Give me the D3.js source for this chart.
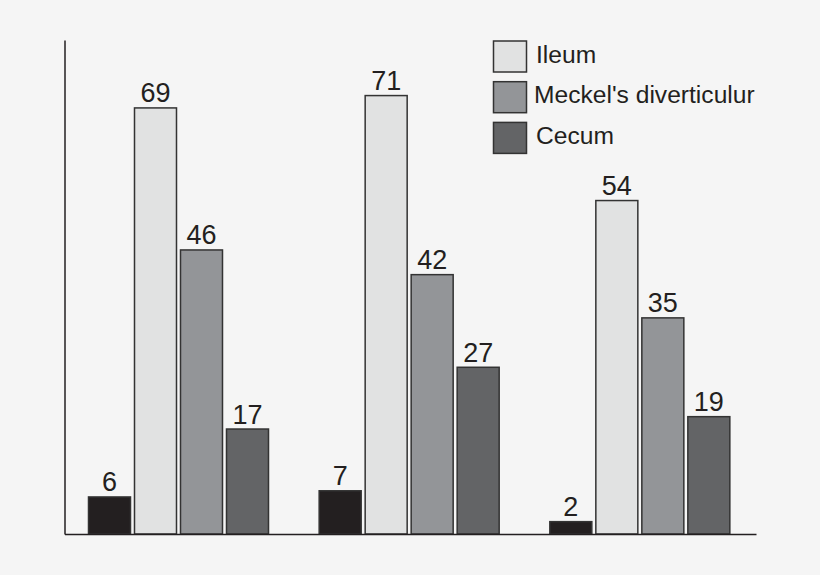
<!DOCTYPE html>
<html><head><meta charset="utf-8">
<script src="https://cdn.jsdelivr.net/npm/d3@7"></script>
<style>html,body{margin:0;padding:0;background:#f5f5f5;}svg{display:block;}</style>
</head><body>
<svg id="chart" width="820" height="575"></svg>
<script>
const groups = ["A", "B", "C"];
const seriesKeys = ["Other", "Ileum", "Meckel's diverticulur", "Cecum"];
const otherValues = [6, 7, 2];
const ileumValues = [69, 71, 54];
const meckelValues = [46, 42, 35];
const cecumValues = [17, 27, 19];
const legendLabels = ["Ileum", "Meckel's diverticulur", "Cecum"];
const colors = ["#231f20", "#e1e2e2", "#939598", "#636466"];

const seriesValues = [otherValues, ileumValues, meckelValues, cecumValues];
const svg = d3.select("#chart");
const font = "'Liberation Sans', Arial, sans-serif";

const x0 = d3.scaleBand().domain(groups).range([65, 757]).padding(0);
const x1 = d3.scaleBand().domain(seriesKeys).range([23.5, 203.5]).paddingInner(0.087).paddingOuter(0);
const y = d3.scaleLinear().domain([0, 80]).range([534, 40]);

const data = [];
groups.forEach((g, gi) => seriesKeys.forEach((k, si) => data.push({g, k, si, v: seriesValues[si][gi]})));

const gBars = svg.append("g");
gBars.selectAll("rect").data(data).join("rect")
  .attr("x", d => x0(d.g) + x1(d.k))
  .attr("y", d => y(d.v))
  .attr("width", x1.bandwidth())
  .attr("height", d => y(0) - y(d.v))
  .attr("fill", d => colors[d.si])
  .attr("stroke", "#333")
  .attr("stroke-width", 1.5);

gBars.selectAll("text").data(data).join("text")
  .attr("x", d => x0(d.g) + x1(d.k) + x1.bandwidth() / 2)
  .attr("y", d => y(d.v) - 5.5)
  .attr("text-anchor", "middle")
  .attr("font-family", font)
  .attr("font-size", 27)
  .attr("fill", "#231f20")
  .text(d => d.v);

// axes
const yAxis = d3.axisLeft(y).tickValues([]).tickSize(0).tickSizeOuter(0);
svg.append("g").attr("transform", "translate(64.5,0)").call(yAxis)
  .select(".domain").attr("stroke", "#231f20").attr("stroke-width", 1.5);
const xAxis = d3.axisBottom(d3.scaleLinear().domain([0, 1]).range([64.5, 756])).tickValues([]).tickSize(0).tickSizeOuter(0);
svg.append("g").attr("transform", "translate(0,534)").call(xAxis)
  .select(".domain").attr("stroke", "#231f20").attr("stroke-width", 1.5);

// legend
const legY = d3.scaleBand().domain(legendLabels).range([40, 156]).paddingInner(0.15);
const leg = svg.append("g");
legendLabels.forEach((lab, i) => {
  const yy = legY(lab);
  leg.append("rect").attr("x", 493.5).attr("y", yy + 1)
    .attr("width", 33).attr("height", 31)
    .attr("fill", colors[i + 1]).attr("stroke", "#333").attr("stroke-width", 1.5);
  leg.append("text").attr("x", i === 1 ? 534 : 536).attr("y", yy + 22.5)
    .attr("font-family", font).attr("font-size", 24.6).attr("fill", "#231f20")
    .text(lab);
});
</script>
</body></html>
